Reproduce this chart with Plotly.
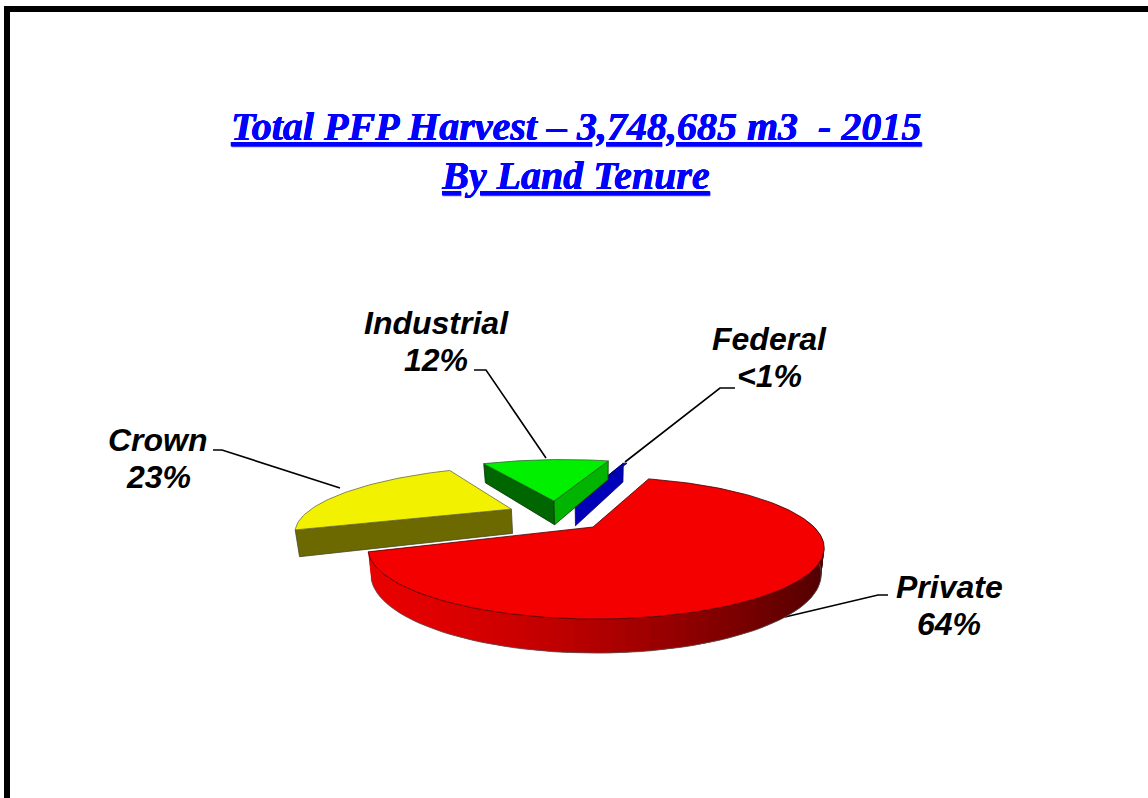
import math
import plotly.graph_objects as go

# ---- data -------------------------------------------------------------
categories = ["Private", "Federal", "Industrial", "Crown"]
shares = [64.4, 0.4, 12.6, 22.6]
share_labels = ["64%", "<1%", "12%", "23%"]
title_lines = ["Total PFP Harvest \u2013 3,748,685 m3 \u00a0- 2015", "By Land Tenure"]

# ---- styling ----------------------------------------------------------
top_colors = ["#f40000", "#0000e0", "#00f000", "#f2f200"]
explode_u = [0.0, -0.108, -0.2187, -0.4227]
explode_v = [0.0, 0.4355, 0.455, 0.30]
radius_scale = [1.0, 1.0, 1.05, 1.0]
height_scale = [1.0, 1.12, 1.12, 1.1]

label_x = {"Private": 949, "Federal": 769, "Industrial": 436, "Crown": 158}
label_y = {"Private": 587, "Federal": 339, "Industrial": 323, "Crown": 440}
leaders = {
    "Private": ([888, 878, 785], [595, 595, 617]),
    "Federal": ([735, 720, 625], [388, 388, 462]),
    "Industrial": ([474, 486, 546], [370, 370, 458]),
    "Crown": ([213, 222, 340], [450, 450, 488]),
}

# ---- tilted-plane projection of the pie --------------------------------
CX, CY, RX, RY, K, H, Z_SHRINK = 596.0, 527.0, 218.0, 64.8, 0.296, 24.0, 0.013
START_ANGLE = 72.0
PRIVATE_APEX_SHIFT = -3.0 / RX


def project(u, v, z=0.0):
    w = 1 + K * v
    x = CX + RX * u / w * (1 - Z_SHRINK * z)
    y = CY - RY * v / w + H * z / w
    return x, y


def poly(points, fill, line="#3a3a3a", width=0.8):
    xs, ys = zip(*points)
    return go.Scatter(
        x=list(xs) + [xs[0]], y=list(ys) + [ys[0]], mode="lines", fill="toself",
        fillcolor=fill, line=dict(color=line, width=width),
        hoverinfo="skip", showlegend=False,
    )


def lerp_hex(a, b, f):
    ca = [int(a[i:i + 2], 16) for i in (1, 3, 5)]
    cb = [int(b[i:i + 2], 16) for i in (1, 3, 5)]
    return "rgb({},{},{})".format(*[round(p + (q - p) * f) for p, q in zip(ca, cb)])


# angular spans from the shares, clockwise from the start angle
total = sum(shares)
spans = {}
angle = START_ANGLE
for name in ["Private", "Crown", "Industrial", "Federal"]:
    sweep = shares[categories.index(name)] / total * 360.0
    spans[name] = (angle, angle - sweep)
    angle -= sweep


def rim(i, a0, a1, n):
    r = radius_scale[i]
    out = []
    for s in range(n + 1):
        t = math.radians(a0 + (a1 - a0) * s / n)
        out.append((explode_u[i] + r * math.cos(t), explode_v[i] + r * math.sin(t)))
    return out


def edge_face(i, a, fill, line="#2a2a2a"):
    r = radius_scale[i]
    z = height_scale[i]
    t = math.radians(a)
    au, av = explode_u[i], explode_v[i]
    bu, bv = au + r * math.cos(t), av + r * math.sin(t)
    return poly([project(au, av), project(bu, bv), project(bu, bv, z), project(au, av, z)], fill, line)


def top_face(i, a0, a1, n=80, line="#3a3a3a", apex_shift=0.0):
    pts = [project(explode_u[i] + apex_shift, explode_v[i])] + [project(u, v) for u, v in rim(i, a0, a1, n)]
    return poly(pts, top_colors[i], line)


traces = []

# leader lines sit behind the slices
for name, (lx, ly) in leaders.items():
    traces.append(go.Scatter(x=lx, y=ly, mode="lines", line=dict(color="#000000", width=1.6),
                             hoverinfo="skip", showlegend=False))

# Private: shaded rim (overlapping strips so no seams), then the top face
pi = categories.index("Private")
a0, a1 = spans["Private"]
strip_from, strip_to = a1 + 360.0, 365.0
N = 70
x_left = project(*rim(pi, strip_from, strip_from, 1)[0])[0]
x_right = CX + RX * 1.047
for s in range(N):
    t0 = strip_from + (strip_to - strip_from) * s / N
    t1 = strip_from + (strip_to - strip_from) * min(N, s + 2) / N
    (u0, v0), (u1, v1) = rim(pi, t0, t1, 1)
    frac = max(0.0, min(1.0, (project(u0, v0)[0] - x_left) / (x_right - x_left)))
    col = lerp_hex("#e80000", "#520000", frac ** 1.4)
    traces.append(poly([project(u0, v0), project(u1, v1), project(u1, v1, 1), project(u0, v0, 1)],
                       col, "rgba(0,0,0,0)", 0))
bottom = rim(pi, strip_from, strip_to, 80)
traces.append(go.Scatter(
    x=[project(u, v, 1)[0] for u, v in bottom],
    y=[project(u, v, 1)[1] for u, v in bottom],
    mode="lines", line=dict(color="#555555", width=0.8), hoverinfo="skip", showlegend=False))
traces.append(top_face(pi, a0, a1, 160, "#400000", PRIVATE_APEX_SHIFT))

# Federal: only its cut face really shows
fi = categories.index("Federal")
a0, a1 = spans["Federal"]
traces.append(edge_face(fi, a0, "#0000b8", "#000060"))
traces.append(top_face(fi, a0, a1, 6, "#000060"))

# Industrial
ii = categories.index("Industrial")
a0, a1 = spans["Industrial"]
traces.append(edge_face(ii, a0, "#006600", "#003000"))
traces.append(edge_face(ii, a1, "#00b400", "#004000"))
traces.append(top_face(ii, a0, a1, 40, "#2a6a2a"))

# Crown
ci = categories.index("Crown")
a0, a1 = spans["Crown"]
traces.append(edge_face(ci, a0, "#6b6900", "#4a4a30"))
traces.append(top_face(ci, a0, a1, 60, "#6a6a40"))

fig = go.Figure(traces)

label_font = dict(family="Liberation Sans", size=32, color="#000000", weight="bold", style="italic")
annotations = []
for name, pct in zip(categories, share_labels):
    annotations.append(dict(x=label_x[name], y=label_y[name], xref="x", yref="y", text=name,
                            showarrow=False, font=label_font, xanchor="center", yanchor="middle"))
    annotations.append(dict(x=label_x[name], y=label_y[name] + 37, xref="x", yref="y", text=pct,
                            showarrow=False, font=label_font, xanchor="center", yanchor="middle"))

title_font = dict(family="Liberation Serif", size=40, color="#0000ff", weight="bold",
                  style="italic", lineposition="under", shadow="0.4px 0.4px 0 #0000ff")
annotations.append(dict(x=575, y=175, xref="x", yref="y", text=title_lines[1], showarrow=False,
                        font=title_font, xanchor="center", yanchor="middle"))

fig.update_layout(
    width=1148, height=798, margin=dict(l=0, r=0, t=0, b=0),
    paper_bgcolor="#ffffff", plot_bgcolor="#ffffff", showlegend=False,
    xaxis=dict(range=[0, 1148], visible=False, fixedrange=True),
    yaxis=dict(range=[798, 0], visible=False, fixedrange=True),
    title=dict(
        text=title_lines[0], x=576 / 1148, xanchor="center", y=1 - 126 / 798,
        yref="container", yanchor="middle", font=title_font,
    ),
    annotations=annotations,
    shapes=[dict(type="rect", xref="x", yref="y", x0=7, y0=9, x1=1170, y1=830,
                 line=dict(color="#000000", width=6), layer="below")],
)

fig.write_html("out.html", config={"displayModeBar": False},
               post_script="document.body.style.margin='0';document.body.style.overflow='hidden';")
